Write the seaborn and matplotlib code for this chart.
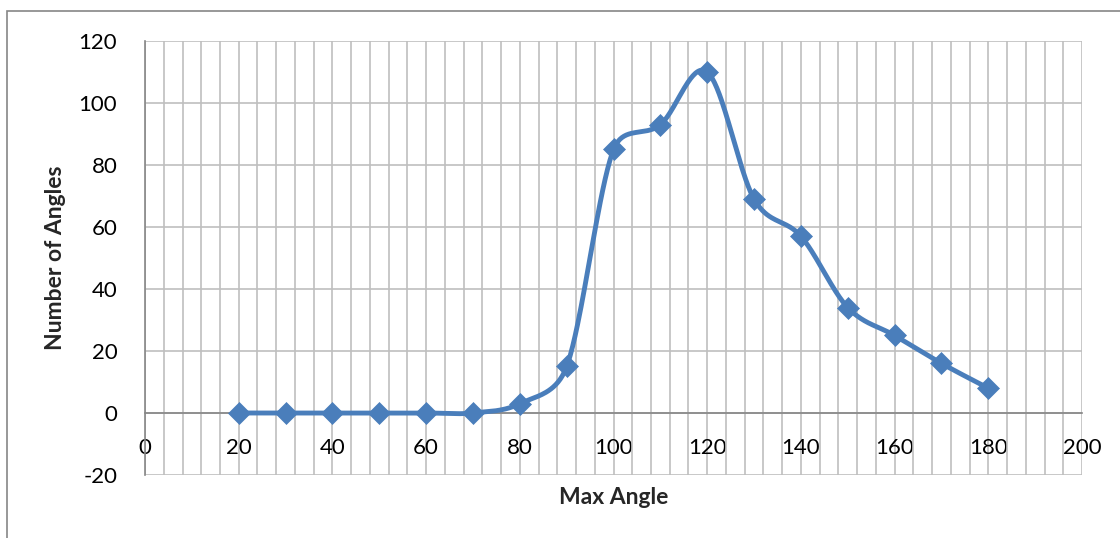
import numpy as np
import pandas as pd
import matplotlib
matplotlib.use("Agg")
import matplotlib.pyplot as plt
from matplotlib.ticker import MultipleLocator
from matplotlib.patches import Rectangle
import seaborn as sns

# Data
max_angle = [20, 30, 40, 50, 60, 70, 80, 90, 100, 110, 120, 130, 140, 150, 160, 170, 180]
num_angles = [0, 0, 0, 0, 0, 0, 3, 15, 85, 93, 110, 69, 57, 34, 25, 16, 8]

x_ticks = [0, 20, 40, 60, 80, 100, 120, 140, 160, 180, 200]
y_ticks = [-20, 0, 20, 40, 60, 80, 100, 120]

BLUE = "#4A7EBB"
GRID = "#BFBFBF"
AXIS = "#868686"

# Screen scale (pixels per data unit) used for the curve smoothing
PX_X = 937 / 200
PX_Y = 434 / 140


def smooth_curve(xs, ys, steps=40):
    """Bezier smoothing with control arms limited to half the segment length."""
    p = np.column_stack([np.asarray(xs) * PX_X, np.asarray(ys) * PX_Y]).astype(float)
    p = np.vstack([p[0], p, p[-1]])
    out = []
    t = np.linspace(0, 1, steps)[:, None]

    def arm(a, b, c):
        d_ac = np.linalg.norm(c - a)
        d_bc = np.linalg.norm(c - b)
        if d_ac == 0:
            return 0.0
        f = 1.0 / 6.0
        if d_ac * f > d_bc / 2.0:
            f = d_bc / 2.0 / d_ac
        return f

    for i in range(1, len(p) - 2):
        p0, p1, p2, p3 = p[i - 1], p[i], p[i + 1], p[i + 2]
        c1 = p1 + (p2 - p0) * arm(p0, p1, p2)
        c2 = p2 - (p3 - p1) * arm(p3, p2, p1)
        seg = ((1 - t) ** 3) * p1 + 3 * ((1 - t) ** 2) * t * c1 + 3 * (1 - t) * t ** 2 * c2 + t ** 3 * p2
        out.append(seg if i == 1 else seg[1:])
    res = np.vstack(out)
    res[:, 0] /= PX_X
    res[:, 1] /= PX_Y
    return res


sns.set_theme(style="white")
plt.rcParams["font.family"] = ["Lato", "DejaVu Sans"]
plt.rcParams["axes.unicode_minus"] = False

fig = plt.figure(figsize=(11.2, 5.38), dpi=100)
ax = fig.add_axes([0.1295, 0.1171, 0.8366, 0.8067])

# Chart-area border (top and left edges visible)
fig.patches.append(Rectangle((7 / 1120, -0.2), 1.5, 1.2 - 11 / 538,
                             transform=fig.transFigure, fill=False,
                             edgecolor=AXIS, linewidth=1.2))

pts = pd.DataFrame({"Max Angle": max_angle, "Number of Angles": num_angles})
curve = smooth_curve(max_angle, num_angles)
curve_df = pd.DataFrame({"x": curve[:, 0], "y": curve[:, 1]})

sns.lineplot(data=curve_df, x="x", y="y", sort=False, color=BLUE,
             linewidth=3.5, ax=ax, zorder=3)
sns.scatterplot(data=pts, x="Max Angle", y="Number of Angles", marker="D",
                s=125, color=BLUE, edgecolor=BLUE, linewidth=0.5, ax=ax, zorder=4)

ax.set_xlim(0, 200)
ax.set_ylim(-20, 120)
ax.xaxis.set_major_locator(MultipleLocator(20))
ax.xaxis.set_minor_locator(MultipleLocator(4))
ax.set_yticks(y_ticks)
ax.set_xticks(x_ticks)

ax.grid(True, which="major", axis="both", color=GRID, linewidth=1.2, zorder=0)
ax.grid(True, which="minor", axis="x", color=GRID, linewidth=1.2, zorder=0)
ax.set_axisbelow(True)

for s in ["top", "right"]:
    ax.spines[s].set_visible(False)
ax.spines["bottom"].set_position(("data", 0))
ax.spines["bottom"].set_color(AXIS)
ax.spines["bottom"].set_linewidth(1.2)
ax.spines["left"].set_color(AXIS)
ax.spines["left"].set_linewidth(1.2)

ax.tick_params(axis="both", which="major", direction="out", length=6, width=1.2,
               color=AXIS, labelsize=16, labelcolor="black")
ax.tick_params(axis="x", which="major", pad=12)
ax.tick_params(axis="y", which="major", pad=14)
ax.tick_params(axis="x", which="minor", length=0)

ax.set_xlabel("Max Angle", fontsize=16.5, fontweight="bold")
ax.set_ylabel("Number of Angles", fontsize=16.5, fontweight="bold")
ax.xaxis.label.set_va("center")
ax.yaxis.label.set_va("center")
ax.xaxis.set_label_coords(0.5, -0.0507)
ax.yaxis.set_label_coords(-0.096, 0.5)

fig.savefig("out.png", dpi=100, facecolor="white")
